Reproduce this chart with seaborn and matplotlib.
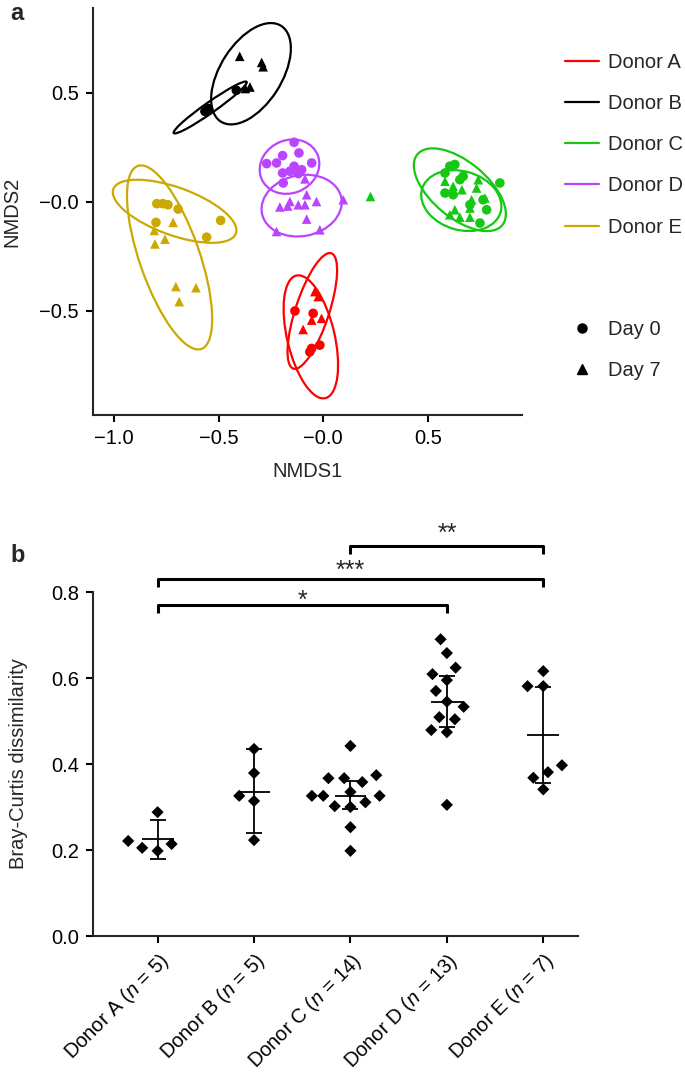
import numpy as np
import pandas as pd
import matplotlib
matplotlib.use("Agg")
import matplotlib.pyplot as plt
from matplotlib.patches import Ellipse
from matplotlib.lines import Line2D
import seaborn as sns

# --- panel a: NMDS coordinates, per donor / day ---
donors = ["Donor A", "Donor B", "Donor C", "Donor D", "Donor E"]
donor_colors = ["#FF0000", "#000000", "#14C814", "#BB44FF", "#CCA800"]
days = ["Day 0", "Day 7"]

A0_x = [-0.135, -0.048, -0.016, -0.055, -0.064]
A0_y = [-0.502, -0.513, -0.659, -0.674, -0.690]
A7_x = [-0.040, -0.024, -0.055, -0.008, -0.096]
A7_y = [-0.413, -0.436, -0.544, -0.536, -0.587]
B0_x = [-0.565, -0.548, -0.415]
B0_y = [0.415, 0.428, 0.512]
B7_x = [-0.399, -0.294, -0.287, -0.350, -0.372]
B7_y = [0.668, 0.640, 0.620, 0.527, 0.520]
C0_x = [0.605, 0.629, 0.582, 0.669, 0.653, 0.582, 0.621, 0.844, 0.764, 0.781, 0.749, 0.701]
C0_y = [0.163, 0.171, 0.132, 0.117, 0.101, 0.040, 0.032, 0.086, 0.009, -0.037, -0.098, -0.014]
C7_x = [0.582, 0.621, 0.741, 0.733, 0.709, 0.701, 0.629, 0.605, 0.653, 0.701, 0.773, 0.663, 0.226]
C7_y = [0.094, 0.071, 0.101, 0.063, 0.009, -0.029, -0.037, -0.060, -0.071, -0.071, 0.017, 0.055, 0.024]
D0_x = [-0.139, -0.194, -0.116, -0.270, -0.223, -0.055, -0.139, -0.194, -0.159, -0.103, -0.119, -0.191]
D0_y = [0.273, 0.212, 0.224, 0.175, 0.178, 0.178, 0.163, 0.132, 0.140, 0.147, 0.129, 0.086]
D7_x = [-0.087, -0.079, -0.032, -0.159, -0.207, -0.119, -0.087, 0.096, -0.079, -0.223, -0.016, -0.170]
D7_y = [0.105, 0.032, 0.001, 0.001, -0.024, -0.014, -0.014, 0.009, -0.080, -0.137, -0.129, -0.020]
E0_x = [-0.795, -0.766, -0.742, -0.693, -0.799, -0.490, -0.557]
E0_y = [-0.009, -0.009, -0.014, -0.034, -0.095, -0.086, -0.163]
E7_x = [-0.717, -0.807, -0.756, -0.804, -0.704, -0.608, -0.688]
E7_y = [-0.095, -0.132, -0.172, -0.194, -0.390, -0.395, -0.459]

# confidence ellipses (centre, semi-axes, angle)
ell_donor = ["Donor A", "Donor A", "Donor B", "Donor B", "Donor C",
             "Donor C", "Donor D", "Donor D", "Donor E", "Donor E"]
ell_cx = [-0.059, -0.052, -0.540, -0.345, 0.653, 0.660, -0.161, -0.103, -0.710, -0.734]
ell_cy = [-0.621, -0.502, 0.433, 0.588, 0.055, 0.005, 0.161, -0.018, -0.044, -0.256]
ell_a = [0.290, 0.280, 0.210, 0.263, 0.260, 0.195, 0.145, 0.193, 0.310, 0.447]
ell_b = [0.113, 0.080, 0.025, 0.146, 0.130, 0.135, 0.122, 0.140, 0.110, 0.143]
ell_angle = [-76, 71, 34, 56, -38, -15, 20, 10, -19, -70]

x_ticks_a = [-1.0, -0.5, 0.0, 0.5]
x_ticklabels_a = ["\u22121.0", "\u22120.5", "\u22120.0", "0.5"]
y_ticks_a = [-0.5, 0.0, 0.5]
y_ticklabels_a = ["\u22120.5", "\u22120.0", "0.5"]

# --- panel b: Bray-Curtis dissimilarity ---
bc_A = [0.214, 0.198, 0.288, 0.205, 0.221]
bc_B = [0.435, 0.379, 0.326, 0.314, 0.223]
bc_C = [0.442, 0.374, 0.367, 0.358, 0.367, 0.335, 0.326, 0.326, 0.326, 0.311, 0.300, 0.302, 0.253, 0.198]
bc_D = [0.690, 0.658, 0.624, 0.609, 0.595, 0.570, 0.545, 0.533, 0.509, 0.504, 0.479, 0.474, 0.305]
bc_E = [0.616, 0.581, 0.581, 0.397, 0.381, 0.368, 0.341]
group_labels = [r"Donor A ($\it{n}$ = 5)", r"Donor B ($\it{n}$ = 5)", r"Donor C ($\it{n}$ = 14)",
                r"Donor D ($\it{n}$ = 13)", r"Donor E ($\it{n}$ = 7)"]
bc_mean = [0.226, 0.336, 0.326, 0.545, 0.467]
bc_ci_lo = [0.180, 0.239, 0.295, 0.486, 0.356]
bc_ci_hi = [0.270, 0.435, 0.360, 0.605, 0.579]

sig_pairs = [(0, 3), (0, 4), (2, 4)]
sig_labels = ["*", "***", "**"]
sig_y = [0.770, 0.830, 0.907]
sig_text_y = [0.763, 0.833, 0.918]

# --- style ---
sns.set_style("ticks")
plt.rcParams["font.family"] = ["Liberation Sans", "DejaVu Sans"]
plt.rcParams["mathtext.fontset"] = "custom"
plt.rcParams["mathtext.it"] = "Liberation Sans:italic"
plt.rcParams["mathtext.rm"] = "Liberation Sans"
FS = 14.5

fig = plt.figure(figsize=(6.85, 10.74), dpi=100)
ax1 = fig.add_axes([93 / 685, 1 - 415 / 1074, 429 / 685, 407 / 1074])
ax2 = fig.add_axes([93 / 685, 1 - 936 / 1074, 485 / 685, 344 / 1074])

# ---------- panel a ----------
groups = {("Donor A", "Day 0"): (A0_x, A0_y), ("Donor A", "Day 7"): (A7_x, A7_y),
          ("Donor B", "Day 0"): (B0_x, B0_y), ("Donor B", "Day 7"): (B7_x, B7_y),
          ("Donor C", "Day 0"): (C0_x, C0_y), ("Donor C", "Day 7"): (C7_x, C7_y),
          ("Donor D", "Day 0"): (D0_x, D0_y), ("Donor D", "Day 7"): (D7_x, D7_y),
          ("Donor E", "Day 0"): (E0_x, E0_y), ("Donor E", "Day 7"): (E7_x, E7_y)}
rows = []
for (d, day), (xs, ys) in groups.items():
    for x, y in zip(xs, ys):
        rows.append({"donor": d, "day": day, "NMDS1": x, "NMDS2": y})
nmds = pd.DataFrame(rows)
palette = dict(zip(donors, donor_colors))

sns.scatterplot(data=nmds, x="NMDS1", y="NMDS2", hue="donor", style="day",
                palette=palette, markers={"Day 0": "o", "Day 7": "^"},
                s=48, linewidth=0, legend=False, ax=ax1, zorder=3)

for d, cx, cy, a, b, ang in zip(ell_donor, ell_cx, ell_cy, ell_a, ell_b, ell_angle):
    ax1.add_patch(Ellipse((cx, cy), 2 * a, 2 * b, angle=ang, fill=False,
                          edgecolor=palette[d], linewidth=1.6, zorder=2))

ax1.set_xlim(-1.10, 0.95)
ax1.set_ylim(-0.98, 0.89)
ax1.set_xticks(x_ticks_a)
ax1.set_xticklabels(x_ticklabels_a)
ax1.set_yticks(y_ticks_a)
ax1.set_yticklabels(y_ticklabels_a)
ax1.set_xlabel("NMDS1", fontsize=FS)
ax1.set_ylabel("NMDS2", fontsize=FS)
ax1.xaxis.set_label_coords(0.5, -0.115)
ax1.yaxis.set_label_coords(-0.168, 0.5)
sns.despine(ax=ax1)

donor_handles = [Line2D([], [], color=c, lw=1.6) for c in donor_colors]
leg1 = fig.legend(donor_handles, donors, loc="upper left",
                  bbox_to_anchor=(565 / 685, 1 - 53 / 1074), frameon=False,
                  fontsize=FS, handlelength=1.67, handletextpad=0.45,
                  labelspacing=1.1, borderpad=0, borderaxespad=0)
day_handles = [Line2D([], [], color="black", marker="o", lw=0, markersize=6.5),
               Line2D([], [], color="black", marker="^", lw=0, markersize=7.5)]
leg2 = fig.legend(day_handles, days, loc="upper left",
                  bbox_to_anchor=(565 / 685, 1 - 320 / 1074), frameon=False,
                  fontsize=FS, handlelength=1.67, handletextpad=0.45,
                  labelspacing=1.1, borderpad=0, borderaxespad=0)

# ---------- panel b ----------
bc = pd.DataFrame({
    "group": sum([[g] * len(v) for g, v in zip(group_labels, [bc_A, bc_B, bc_C, bc_D, bc_E])], []),
    "value": bc_A + bc_B + bc_C + bc_D + bc_E,
})
# invisible edge widens the swarm spacing like in the original figure
sns.swarmplot(data=bc, x="group", y="value", order=group_labels, color="black",
              marker="D", size=6.2, linewidth=4.6, edgecolor="none", ax=ax2, zorder=3)

pos = np.arange(len(group_labels))
ax2.hlines(bc_mean, pos - 0.165, pos + 0.165, color="black", lw=1.3, zorder=4)
ax2.errorbar(pos, bc_mean, yerr=[np.array(bc_mean) - np.array(bc_ci_lo),
                                 np.array(bc_ci_hi) - np.array(bc_mean)],
             fmt="none", ecolor="black", elinewidth=1.3, capsize=6, capthick=1.3, zorder=4)

leg_len = 0.019
for (i, j), lab, y, ty in zip(sig_pairs, sig_labels, sig_y, sig_text_y):
    ax2.plot([i, i, j, j], [y - leg_len, y, y, y - leg_len], color="black",
             lw=2.2, clip_on=False, solid_capstyle="butt")
    ax2.text((i + j) / 2, ty, lab, ha="center", va="baseline", fontsize=18)

ax2.set_xlim(-0.67, 4.36)
ax2.set_ylim(0, 0.8)
ax2.set_yticks([0.0, 0.2, 0.4, 0.6, 0.8])
ax2.set_yticklabels(["0.0", "0.2", "0.4", "0.6", "0.8"])
ax2.set_xlabel("")
ax2.set_ylabel("Bray-Curtis dissimilarity", fontsize=FS)
ax2.yaxis.set_label_coords(-0.133, 0.5)
ax2.set_xticks(pos)
ax2.set_xticklabels(group_labels, rotation=45, ha="right", va="top",
                    rotation_mode="anchor")
sns.despine(ax=ax2)

for ax in (ax1, ax2):
    for sp in ("left", "bottom"):
        ax.spines[sp].set_linewidth(1.5)
    ax.tick_params(direction="out", length=5, width=1.5, pad=5,
                   labelsize=FS, colors="black")

fig.text(10 / 685, 1 - 2 / 1074, "a", fontsize=17, fontweight="bold", va="top", ha="left")
fig.text(10 / 685, 1 - 544 / 1074, "b", fontsize=17, fontweight="bold", va="top", ha="left")

fig.savefig("out.png", dpi=100)
